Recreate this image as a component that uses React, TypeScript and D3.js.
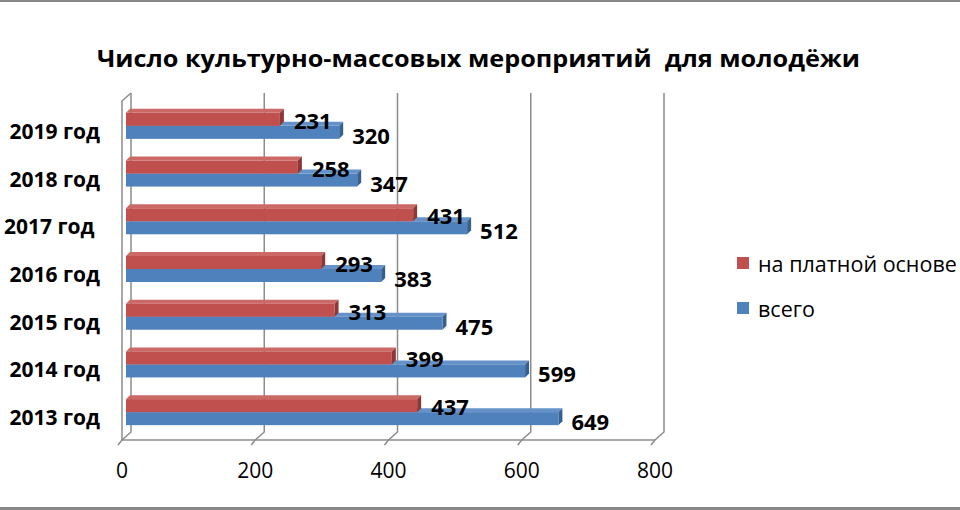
import React from "react";
import * as d3 from "d3";

const categories = ["2019 год", "2018 год", "2017 год ", "2016 год", "2015 год", "2014 год", "2013 год"];
const paidValues = [231, 258, 431, 293, 313, 399, 437];
const totalValues = [320, 347, 512, 383, 475, 599, 649];
const xTicks = [0, 200, 400, 600, 800];
const seriesNames = ["на платной основе", "всего"];
const title = "Число культурно-массовых мероприятий  для молодёжи";

const W = 960;
const H = 510;
const FONT = "'Open Sans', 'DejaVu Sans', sans-serif";

const RED = { front: "#C0504D", top: "#CB6966", side: "#8C3836" };
const BLUE = { front: "#4F81BD", top: "#6592C9", side: "#375F8F" };

// 3D offsets: front plane -> back wall
const BACK = { dx: 9, dy: -8 };
const BAR_OFF = { dx: 4, dy: -4 };
const BAR_DEPTH = { dx: 4, dy: -4 };
const FLOOR_Y = 440;
const WALL_TOP = 93;
const BAR_H = 13;

export default function App() {
  const x = d3.scaleLinear().domain([0, 800]).range([122, 655]);
  const y = d3.scaleBand<string>().domain(categories).range([102 - BAR_OFF.dy, 436 - BAR_OFF.dy]);
  const cy = (c: string) => (y(c) || 0) + y.bandwidth() / 2 + BAR_OFF.dy;
  const bx = (v: number) => x(v) + BAR_OFF.dx;

  const bar = (x0: number, x1: number, y0: number, col: typeof RED, key: string) => {
    const y1 = y0 + BAR_H;
    const { dx, dy } = BAR_DEPTH;
    return (
      <g key={key}>
        <path d={`M${x0},${y0} L${x0 + dx},${y0 + dy} L${x1 + dx},${y0 + dy} L${x1},${y0} Z`} fill={col.top} />
        <path d={`M${x1},${y0} L${x1 + dx},${y0 + dy} L${x1 + dx},${y1 + dy} L${x1},${y1} Z`} fill={col.side} />
        <rect x={x0} y={y0} width={x1 - x0} height={BAR_H} fill={col.front} />
      </g>
    );
  };

  return (
    <svg width={W} height={H} style={{ position: "fixed", left: 0, top: 0, background: "#fff" }} fontFamily={FONT}>
      <rect x={0} y={0} width={W} height={H} fill="#fff" />
      <rect x={0} y={0} width={W} height={2} fill="#888" />
      <rect x={0} y={507} width={W} height={3} fill="#888" />

      <text x={97} y={57} textLength={763} lengthAdjust="spacingAndGlyphs" dominantBaseline="central"
        fontSize={24} fontWeight="bold" fill="#000" style={{ whiteSpace: "pre" }}>
        {title}
      </text>

      {/* walls and grid */}
      <g stroke="#8c8c8c" strokeWidth={1.5} fill="none">
        <path d={`M${x(0)},${FLOOR_Y} L${x(0)},${WALL_TOP - BACK.dy} L${x(0) + BACK.dx},${WALL_TOP}`} />
        {xTicks.map(t => (
          <path key={t} d={`M${x(t) + BACK.dx},${WALL_TOP} L${x(t) + BACK.dx},${FLOOR_Y + BACK.dy} L${x(t)},${FLOOR_Y} L${x(t) - 4},${FLOOR_Y + 5}`} />
        ))}
        <line x1={x(0)} x2={x(800)} y1={FLOOR_Y} y2={FLOOR_Y} />
      </g>

      {/* bars */}
      {categories.map((c, i) => (
        <g key={c}>
          {bar(bx(0), bx(totalValues[i]), cy(c), BLUE, "b")}
          {bar(bx(0), bx(paidValues[i]), cy(c) - BAR_H, RED, "r")}
        </g>
      ))}

      {/* data labels */}
      {categories.map((c, i) => (
        <g key={c} fontSize={22} fontWeight="bold" fill="#000">
          <text x={bx(paidValues[i]) + 14} y={cy(c) - 6} dominantBaseline="central">{paidValues[i]}</text>
          <text x={bx(totalValues[i]) + 13} y={cy(c) + 9} dominantBaseline="central">{totalValues[i]}</text>
        </g>
      ))}

      {/* category labels */}
      {categories.map(c => (
        <text key={c} x={100} y={cy(c) + 5} textAnchor="end" dominantBaseline="central" fontSize={21} fontWeight="bold" style={{ whiteSpace: "pre" }}>
          {c}
        </text>
      ))}

      {/* x tick labels */}
      {xTicks.map(t => (
        <text key={t} x={x(t)} y={470} textAnchor="middle" dominantBaseline="central" fontSize={21}>
          {t}
        </text>
      ))}

      {/* legend */}
      {seriesNames.map((s, i) => (
        <g key={s} transform={`translate(737,${263 + i * 45})`}>
          <rect x={0} y={-6} width={12} height={12} fill={i === 0 ? RED.front : BLUE.front} />
          <text x={21} y={0} dominantBaseline="central" fontSize={21.5}>{s}</text>
        </g>
      ))}
    </svg>
  );
}
